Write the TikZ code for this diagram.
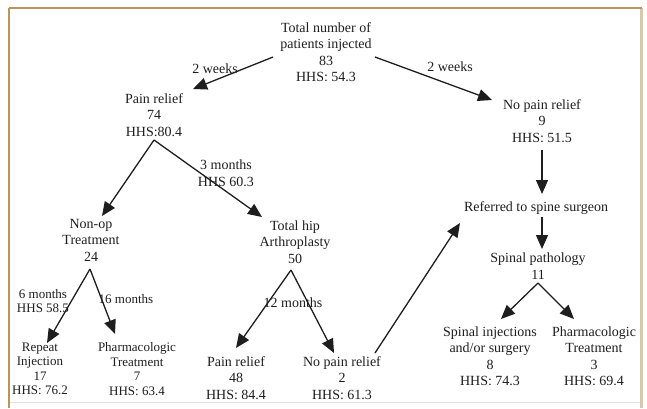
\documentclass[tikz,border=0pt]{standalone}
\usepackage{fontspec}
\setmainfont{Liberation Serif}
\usetikzlibrary{arrows.meta}
\definecolor{frametan}{HTML}{B8955E}
\definecolor{framelight}{HTML}{D9C9A8}
\definecolor{framegray}{HTML}{E2E2E2}
\definecolor{ink}{HTML}{1E1E1E}
\tikzset{
  txt/.style={text=ink, align=center, inner sep=0pt, font=\fontsize{14}{16.5}\selectfont},
  txtsm/.style={text=ink, align=center, inner sep=0pt, font=\fontsize{13}{14.5}\selectfont},
  lbl/.style={text=ink, align=center, inner sep=0pt, font=\fontsize{14}{16.5}\selectfont},
  arr/.style={draw=ink, line width=1.3pt, -{Triangle[length=14pt,width=12pt]}}
}
\begin{document}
\begin{tikzpicture}[x=1pt,y=-1pt]
\useasboundingbox (0,0) rectangle (647,408);
% frame
\draw[framegray, line width=1pt] (9,402) -- (641,402);
\draw[framelight, line width=2.5pt] (641.5,8) -- (641.5,408);
\draw[frametan, line width=1.5pt] (9,8) -- (642,8);
\draw[frametan, line width=1.5pt] (9,8) -- (9,408);

% nodes
\node[txt] (total) at (326,52) {Total number of\\patients injected\\83\\HHS: 54.3};
\node[txt] (pain1) at (154,115) {Pain relief\\74\\HHS:80.4};
\node[txt] (nopain1) at (542,121) {No pain relief\\9\\HHS: 51.5};
\node[txt] (nonop) at (91,240) {Non-op\\Treatment\\24};
\node[txt] (thr) at (295,242) {Total hip\\Arthroplasty\\50};
\node[txtsm] (repeat) at (40,369) {Repeat\\Injection\\17\\HHS: 76.2};
\node[txtsm] (pharm1) at (137,369) {Pharmacologic\\Treatment\\7\\HHS: 63.4};
\node[txt] (pain2) at (236,378) {Pain relief\\48\\HHS: 84.4};
\node[txt] (nopain2) at (342,378) {No pain relief\\2\\HHS: 61.3};
\node[txt] (referred) at (536,208) {Referred to spine surgeon};
\node[txt] (spinal) at (538,266) {Spinal pathology\\11};
\node[txt] (spinj) at (490,356) {Spinal injections\\and/or surgery\\8\\HHS: 74.3};
\node[txt] (pharm2) at (594,356) {Pharmacologic\\Treatment\\3\\HHS: 69.4};

% labels
\node[lbl] (l2wl) at (215,69) {2 weeks};
\node[lbl] (l2wr) at (450,67) {2 weeks};
\node[lbl] (l3m) at (226,173) {3 months\\HHS 60.3};
\node[txtsm] (l6m) at (43,301) {6 months\\HHS 58.5};
\node[txtsm] (l16m) at (126,299) {16 months};
\node[lbl] (l12m) at (293,303) {12 months};

% connector end points
\coordinate (totalL) at (273,57);
\coordinate (totalR) at (375,57);
\coordinate (pain1In) at (193,89);
\coordinate (nopain1In) at (492,100);
\coordinate (pain1Fork) at (154,140);
\coordinate (nonopIn) at (102,216);
\coordinate (thrIn) at (262,217);
\coordinate (nonopFork) at (90,269);
\coordinate (repeatIn) at (47,343);
\coordinate (pharm1In) at (115,334);
\coordinate (thrFork) at (291,270);
\coordinate (pain2In) at (236,348);
\coordinate (nopain2In) at (334,353);
\coordinate (nopain2Out) at (375,353);
\coordinate (referredInL) at (460,223);
\coordinate (nopain1Out) at (542,150);
\coordinate (referredInT) at (542,194);
\coordinate (referredOut) at (542,217);
\coordinate (spinalIn) at (542,249);
\coordinate (spinalFork) at (538,283);
\coordinate (spinjIn) at (501,319);
\coordinate (pharm2In) at (574,319);

% connectors
\draw[arr] (totalL) -- (pain1In);
\draw[arr] (totalR) -- (nopain1In);
\draw[arr] (pain1Fork) -- (nonopIn);
\draw[arr] (pain1Fork) -- (thrIn);
\draw[arr] (nonopFork) -- (repeatIn);
\draw[arr] (nonopFork) -- (pharm1In);
\draw[arr] (thrFork) -- (pain2In);
\draw[arr] (thrFork) -- (nopain2In);
\draw[arr] (nopain2Out) -- (referredInL);
\draw[arr] (nopain1Out) -- (referredInT);
\draw[arr] (referredOut) -- (spinalIn);
\draw[arr] (spinalFork) -- (spinjIn);
\draw[arr] (spinalFork) -- (pharm2In);
\end{tikzpicture}
\end{document}
